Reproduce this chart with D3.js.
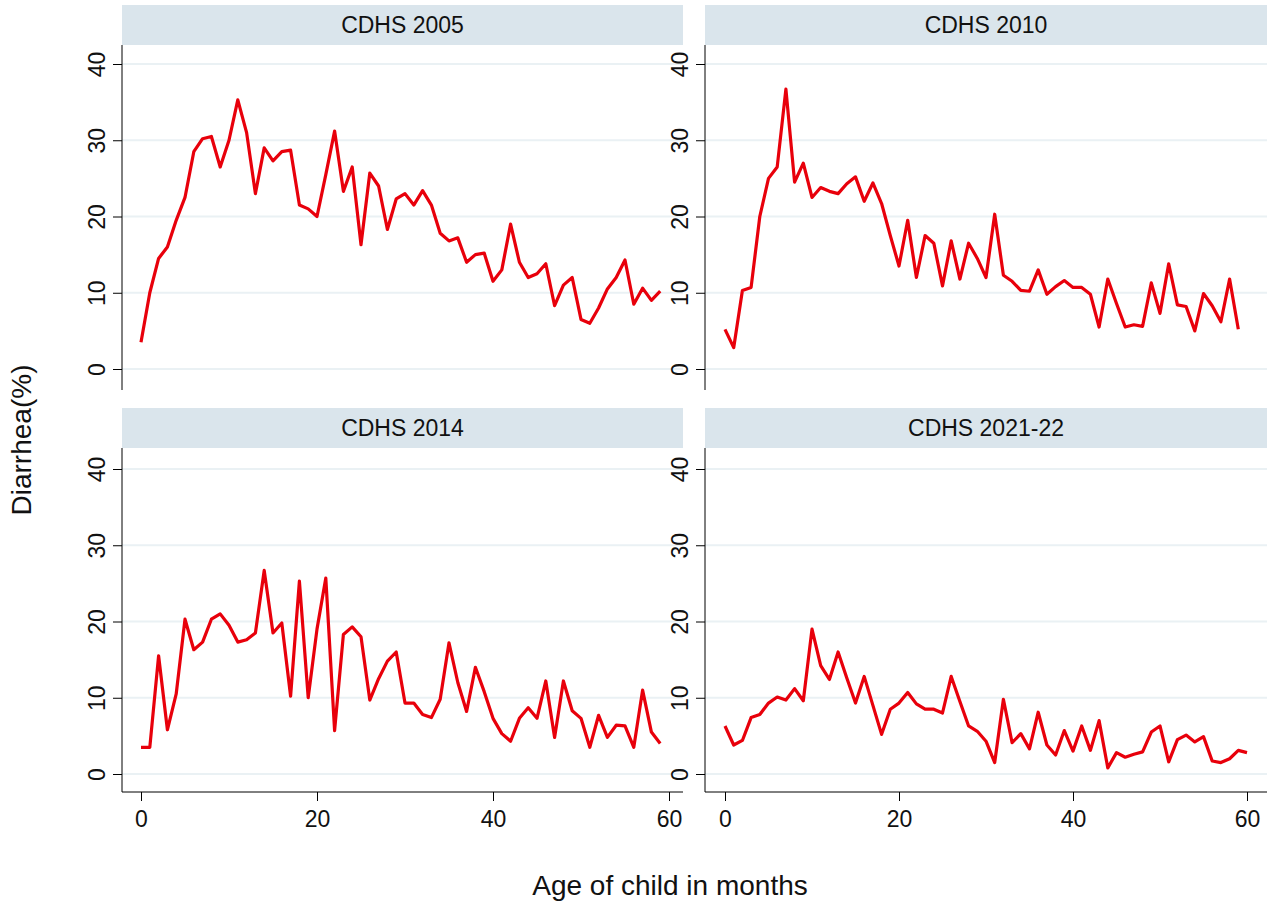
<!DOCTYPE html>
<html><head><meta charset="utf-8">
<script src="https://cdn.jsdelivr.net/npm/d3@7"></script>
<style>body{margin:0;background:#fff}text{font-family:Arial,"Liberation Sans",sans-serif}</style>
</head><body><svg id="c" width="1280" height="908"></svg>
<script>
const titles = ["CDHS 2005","CDHS 2010","CDHS 2014","CDHS 2021-22"];
const yTicks = [0,10,20,30,40];
const xTicks = [0,20,40,60];
const s2005 = [3.5,10,14.5,16,19.5,22.5,28.5,30.2,30.5,26.5,30,35.3,31,23,29,27.3,28.5,28.7,21.5,21,20,25.5,31.2,23.3,26.5,16.3,25.7,24,18.3,22.3,23,21.5,23.4,21.5,17.8,16.8,17.2,14,15,15.2,11.5,13,19,14,12,12.5,13.8,8.3,11,12,6.5,6,8,10.5,12,14.3,8.5,10.6,9,10.2];
const s2010 = [5.2,2.8,10.3,10.7,20,25,26.5,36.7,24.5,27,22.5,23.8,23.3,23,24.3,25.2,22,24.4,21.7,17.5,13.5,19.5,12,17.5,16.5,10.9,16.8,11.8,16.5,14.5,12,20.3,12.3,11.5,10.3,10.2,13,9.8,10.8,11.6,10.7,10.7,9.8,5.5,11.8,8.6,5.5,5.8,5.6,11.3,7.3,13.8,8.4,8.2,5,9.9,8.3,6.2,11.8,5.2];
const s2014 = [3.5,3.5,15.5,5.8,10.5,20.3,16.3,17.3,20.3,21,19.5,17.3,17.6,18.5,26.7,18.5,19.8,10.2,25.3,10,19,25.7,5.7,18.3,19.3,18,9.7,12.5,14.8,16,9.3,9.3,7.8,7.4,9.8,17.2,12,8.2,14,10.8,7.3,5.3,4.3,7.3,8.7,7.3,12.2,4.8,12.2,8.3,7.3,3.5,7.7,4.8,6.4,6.3,3.5,11,5.5,4];
const s2021 = [6.3,3.8,4.4,7.4,7.8,9.3,10.1,9.7,11.2,9.6,19,14.2,12.4,16,12.6,9.3,12.8,9,5.2,8.5,9.3,10.7,9.2,8.5,8.5,8,12.8,9.5,6.3,5.6,4.3,1.5,9.8,4.1,5.3,3.3,8.1,3.8,2.5,5.7,3,6.3,3.1,7,0.8,2.8,2.2,2.6,2.9,5.5,6.3,1.6,4.5,5.1,4.2,4.9,1.7,1.5,2,3.1,2.8];
const series = [s2005,s2010,s2014,s2021];

const svg = d3.select("#c");
const panels = [
  {x0:122,x1:683,h0:5,h1:45,y1:390,zero:369,top40:64,xa0:141,xa60:669},
  {x0:705,x1:1267,h0:5,h1:45,y1:390,zero:369,top40:64,xa0:725,xa60:1247},
  {x0:122,x1:683,h0:408,h1:448,y1:792,zero:774,top40:469,xa0:141,xa60:669},
  {x0:705,x1:1267,h0:408,h1:448,y1:792,zero:774,top40:469,xa0:725,xa60:1247}
];
panels.forEach((p,i)=>{
  const g = svg.append("g");
  g.append("rect").attr("x",p.x0).attr("y",p.h0).attr("width",p.x1-p.x0).attr("height",p.h1-p.h0).attr("fill","#dae5ec");
  g.append("text").attr("x",(p.x0+p.x1)/2).attr("y",(p.h0+p.h1)/2+8).attr("text-anchor","middle").attr("font-size",23).attr("fill","#111").text(titles[i]);
  const x = d3.scaleLinear().domain([0,60]).range([p.xa0,p.xa60]);
  const y = d3.scaleLinear().domain([0,40]).range([p.zero,p.top40]);
  g.selectAll("line.grid").data(yTicks).join("line").attr("x1",p.x0).attr("x2",p.x1)
    .attr("y1",d=>y(d)).attr("y2",d=>y(d)).attr("stroke","#eaf1f4").attr("stroke-width",2);
  const ya = g.append("g").attr("transform",`translate(${p.x0},0)`).call(d3.axisLeft(y).tickValues(yTicks).tickSize(9).tickPadding(6));
  ya.select(".domain").attr("d",`M0,${p.h1}V${p.y1}`).attr("stroke","#000");
  ya.selectAll(".tick text").attr("font-size",23).attr("fill","#111").attr("text-anchor","middle")
    .attr("x",0).attr("y",0).attr("dy","0").attr("transform","translate(-17,0) rotate(-90)");
  ya.selectAll(".tick line").attr("stroke","#000");
  if(i>=2){
    const xa = g.append("g").attr("transform",`translate(0,${p.y1})`).call(d3.axisBottom(x).tickValues(xTicks).tickSize(9).tickPadding(10));
    xa.select(".domain").attr("d",`M${p.x0},0H${p.x1}`).attr("stroke","#000");
    xa.selectAll("text").attr("font-size",23).attr("fill","#111");
  }
  const line = d3.line().x((d,j)=>x(j)).y(d=>y(d));
  g.append("path").datum(series[i]).attr("d",line).attr("fill","none").attr("stroke","#e8000b").attr("stroke-width",3.2).attr("stroke-linejoin","round");
});
svg.append("text").attr("transform","translate(31,440) rotate(-90)").attr("text-anchor","middle").attr("font-size",28).attr("fill","#111").text("Diarrhea(%)");
svg.append("text").attr("x",670).attr("y",895).attr("text-anchor","middle").attr("font-size",28).attr("fill","#111").text("Age of child in months");
</script></body></html>
